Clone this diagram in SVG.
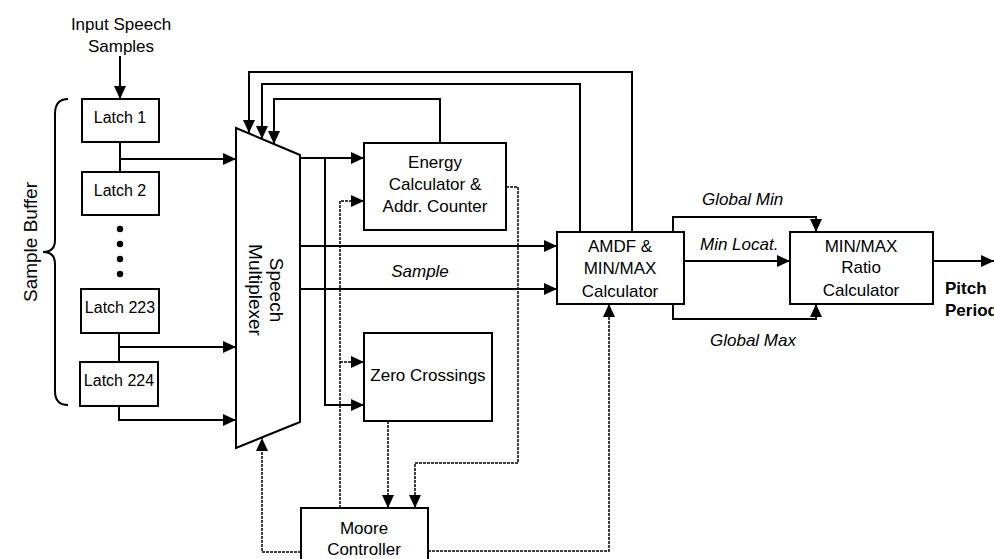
<svg xmlns="http://www.w3.org/2000/svg" width="994" height="559" viewBox="0 0 994 559">
<defs>
<marker id="arr" viewBox="0 0 13 12" refX="13" refY="6" markerWidth="13" markerHeight="12" markerUnits="userSpaceOnUse" orient="auto"><path d="M0,0 L13,6 L0,12 z" fill="#000"/></marker>
<style>
text{font-family:"Liberation Sans",Arial,sans-serif;font-size:17px;fill:#000}
.box{fill:#fff;stroke:#000;stroke-width:2}
.c{text-anchor:middle}
.lt{font-size:16px}
.it{font-style:italic}
.b{font-weight:bold}
.w{fill:none;stroke:#000;stroke-width:2;marker-end:url(#arr)}
.n{fill:none;stroke:#000;stroke-width:2}
.d{fill:none;stroke:#000;stroke-width:1.5;stroke-dasharray:3 1;marker-end:url(#arr)}
</style>
</defs>
<rect width="994" height="559" fill="#fff"/>

<g id="connectors">
<path class="w" d="M120,56 L120,99"/>
<path class="n" d="M120,142 L120,172"/>
<path class="w" d="M120,159 L236,159"/>
<path class="n" d="M119,333 L119,362"/>
<path class="w" d="M119,347 L236,347"/>
<path class="w" d="M119,406 L119,420 L236,420"/>
<path class="w" d="M300,158 L364,158"/>
<path class="w" d="M325,158 L325,405 L364,405"/>
<path class="w" d="M300,246 L557,246"/>
<path class="w" d="M300,289 L557,289"/>
<path class="w" d="M440,143 L440,99 L274,99 L274,144"/>
<path class="w" d="M580,232 L580,84 L262,84 L262,139"/>
<path class="w" d="M632,232 L632,72 L249,72 L249,133"/>
<path class="w" d="M673,232 L673,217 L816,217 L816,232"/>
<path class="w" d="M684,261 L790,261"/>
<path class="w" d="M673,304 L673,319 L816,319 L816,304"/>
<path class="w" d="M933,261 L994,261"/>
<path class="d" d="M340,508 L340,201 L364,201"/>
<path class="d" d="M340,362 L364,362"/>
<path class="d" d="M388,421 L388,508"/>
<path class="d" d="M506,187 L518,187 L518,463 L415,463 L415,508"/>
<path class="d" d="M301,552 L262,552 L262,438"/>
<path class="d" d="M428,551 L609,551 L609,304"/>
</g>

<g id="input-label">
<text class="c" x="121" y="30">Input Speech</text>
<text class="c" x="121" y="52">Samples</text>
</g>

<g id="sample-buffer">
<path d="M68,99 Q55,99 55,114 L55,240 Q55,252 43,252 Q55,252 55,264 L55,391 Q55,405 68,405" fill="none" stroke="#000" stroke-width="2"/>
<text class="c" transform="translate(37,242) rotate(-90)" style="font-size:19px">Sample Buffer</text>
</g>

<g id="latch1"><rect class="box" x="82" y="99" width="77" height="43"/><text class="c lt" x="120" y="123">Latch 1</text></g>
<g id="latch2"><rect class="box" x="82" y="172" width="77" height="43"/><text class="c lt" x="120" y="196">Latch 2</text></g>
<g id="dots" fill="#000">
<circle cx="120" cy="229" r="3.2"/><circle cx="120" cy="244" r="3.2"/><circle cx="120" cy="259" r="3.2"/><circle cx="120" cy="274" r="3.2"/>
</g>
<g id="latch223"><rect class="box" x="81" y="289" width="78" height="44"/><text class="c lt" x="120" y="313">Latch 223</text></g>
<g id="latch224"><rect class="box" x="80" y="362" width="78" height="44"/><text class="c lt" x="119" y="386">Latch 224</text></g>

<g id="mux">
<polygon class="box" points="236,128 300,155 300,422 236,448"/>
<text class="c" transform="translate(270,290) rotate(90)" style="font-size:19px">Speech</text>
<text class="c" transform="translate(249,290) rotate(90)" style="font-size:19px">Multiplexer</text>
</g>

<g id="energy">
<rect class="box" x="364" y="143" width="142" height="87"/>
<text class="c" x="435" y="168">Energy</text>
<text class="c" x="435" y="190">Calculator &amp;</text>
<text class="c" x="435" y="212">Addr. Counter</text>
</g>

<g id="zero">
<rect class="box" x="364" y="333" width="128" height="88"/>
<text class="c" x="428" y="381">Zero Crossings</text>
</g>

<g id="moore">
<rect class="box" x="301" y="508" width="127" height="60"/>
<text class="c" x="364" y="534">Moore</text>
<text class="c" x="364" y="555">Controller</text>
</g>

<g id="amdf">
<rect class="box" x="557" y="232" width="127" height="72"/>
<text class="c" x="620" y="252">AMDF &amp;</text>
<text class="c" x="620" y="274">MIN/MAX</text>
<text class="c" x="620" y="297">Calculator</text>
</g>

<g id="ratio">
<rect class="box" x="790" y="232" width="143" height="72"/>
<text class="c" x="861" y="252">MIN/MAX</text>
<text class="c" x="861" y="273">Ratio</text>
<text class="c" x="861" y="296">Calculator</text>
</g>

<g id="labels">
<text class="c it" x="420" y="277">Sample</text>
<text class="it" x="702" y="205">Global Min</text>
<text class="it" x="700" y="250">Min Locat.</text>
<text class="it" x="710" y="346">Global Max</text>
<text class="b" x="945" y="294">Pitch</text>
<text class="b" x="945" y="316">Period</text>
</g>
</svg>
